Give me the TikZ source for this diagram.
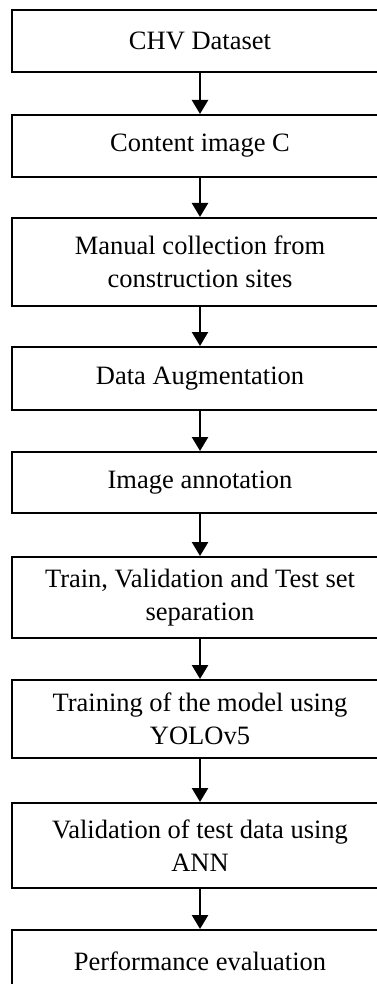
\documentclass[tikz,border=0pt]{standalone}
\usepackage{fontspec}
\setmainfont{Liberation Serif}
\usetikzlibrary{arrows.meta}

\begin{document}
\begin{tikzpicture}[x=1pt, y=-1pt,
        stage/.style={draw, line width=2pt, minimum width=376pt, inner sep=0pt,
                      align=center, font=\fontsize{26.5}{33}\selectfont},
        flow/.style={line width=2.5pt, -{Triangle[width=16pt, length=14pt]}}]

                    \useasboundingbox (0, 0) rectangle (377, 984);

                    \node[stage, minimum height=62pt] (S1) at (200, 41)    {CHV Dataset};
                    \node[stage, minimum height=62pt] (S2) at (200, 146)   {Content image C};
                    \node[stage, minimum height=88pt] (S3) at (200, 262)   {Manual collection from\\construction sites};
                    \node[stage, minimum height=63pt] (S4) at (200, 378.5) {Data Augmentation};
                    \node[stage, minimum height=61pt] (S5) at (200, 482.5) {Image annotation};
                    \node[stage, minimum height=81pt] (S6) at (200, 597.5) {Train, Validation and Test set\\separation};
                    \node[stage, minimum height=78pt] (S7) at (200, 719)   {Training of the model using\\YOLOv5};
                    \node[stage, minimum height=85pt] (S8) at (200, 845.5) {Validation of test data using\\ANN};
                    \node[stage, minimum height=62pt] (S9) at (200, 961)   {Performance evaluation};

                    %\draw[gray, dashed] (S1) -- (S9);

                    \draw[flow] (S1) -- (S2);
                    \draw[flow] (S2) -- (S3);
                    \draw[flow] (S3) -- (S4);
                    \draw[flow] (S4) -- (S5);
                    \draw[flow] (S5) -- (S6);
                    \draw[flow] (S6) -- (S7);
                    \draw[flow] (S7) -- (S8);
                    \draw[flow] (S8) -- (S9);

                \end{tikzpicture}
\end{document}
